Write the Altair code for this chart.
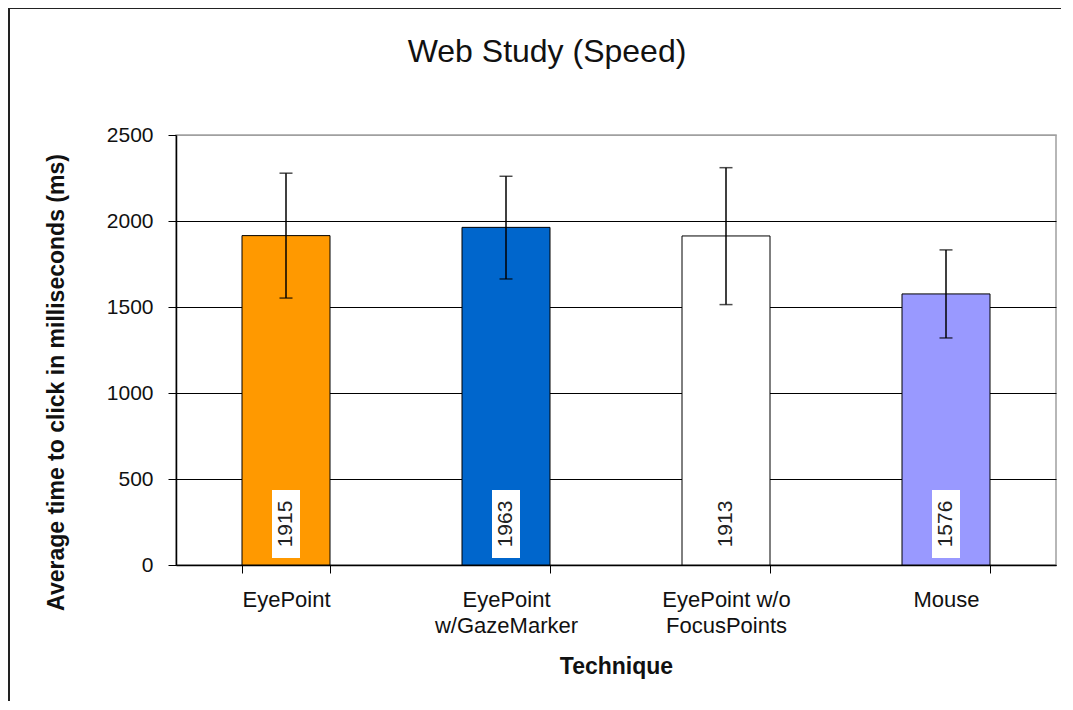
import altair as alt
import pandas as pd

chart_title = "Web Study (Speed)"
techniques = ["EyePoint", "EyePoint|w/GazeMarker", "EyePoint w/o|FocusPoints", "Mouse"]
mean_ms = [1915, 1963, 1913, 1576]
err_low = [1552, 1663, 1514, 1320]
err_high = [2278, 2260, 2310, 1832]
bar_colors = ["#FF9900", "#0066CC", "#FFFFFF", "#9999FF"]
y_ticks = [0, 500, 1000, 1500, 2000, 2500]

df = pd.DataFrame({
    "technique": techniques,
    "mean": mean_ms,
    "low": err_low,
    "high": err_high,
    "color": bar_colors,
})

FONT = "Liberation Sans"
PAD_RIGHT = 9

x_enc = alt.X(
    "technique:N",
    sort=techniques,
    title="Technique",
    scale=alt.Scale(paddingInner=0.6, paddingOuter=0.3),
    axis=alt.Axis(
        labelExpr="split(datum.label, '|')",
        labelAngle=0,
        labelFont=FONT,
        labelFontSize=22,
        labelColor="#111",
        labelLineHeight=26,
        labelPadding=16,
        tickBand="extent",
        tickSize=8,
        tickColor="black",
        domainColor="black",
        domainWidth=1.5,
        titleFont=FONT,
        titleFontSize=23,
        titleFontWeight="bold",
        titleColor="#111",
        titlePadding=19,
        grid=False,
    ),
)

y_scale = alt.Scale(domain=[0, 2500], nice=False)

bars = alt.Chart(df).mark_bar(stroke="black", strokeWidth=1).encode(
    x=x_enc,
    y=alt.Y(
        "mean:Q",
        scale=y_scale,
        title="Average time to click in milliseconds (ms)",
        axis=alt.Axis(
            values=y_ticks,
            format="d",
            grid=True,
            gridColor=alt.condition("datum.value == 2500", alt.value("#a0a0a0"), alt.value("black")),
            gridWidth=1.2,
            tickSize=8,
            tickColor="black",
            domainColor="black",
            domainWidth=1.5,
            labelFont=FONT,
            labelFontSize=21,
            labelColor="#111",
            labelPadding=15,
            titleFont=FONT,
            titleFontSize=23,
            titleFontWeight="bold",
            titleColor="#111",
            titlePadding=38,
            titleY=247,
        ),
    ),
    fill=alt.Fill("color:N", scale=None),
)

err_rule = alt.Chart(df).mark_rule(color="black", strokeWidth=1.5).encode(
    x=alt.X("technique:N", sort=techniques),
    y=alt.Y("low:Q", scale=y_scale),
    y2="high:Q",
)

cap_low = alt.Chart(df).mark_tick(color="black", size=13, thickness=1.5).encode(
    x=alt.X("technique:N", sort=techniques),
    y=alt.Y("low:Q", scale=y_scale),
)
cap_high = alt.Chart(df).mark_tick(color="black", size=13, thickness=1.5).encode(
    x=alt.X("technique:N", sort=techniques),
    y=alt.Y("high:Q", scale=y_scale),
)

label_box = alt.Chart(df).mark_bar(fill="white", size=28).encode(
    x=alt.X("technique:N", sort=techniques),
    y=alt.value(355),
    y2=alt.value(423),
)

labels = alt.Chart(df).mark_text(
    angle=270, font=FONT, fontSize=21, color="#222", baseline="middle", align="center"
).encode(
    x=alt.X("technique:N", sort=techniques),
    y=alt.value(389),
    text=alt.Text("mean:Q", format="d"),
)

title_text = alt.Chart(alt.Data(values=[{"t": chart_title}])).mark_text(
    font=FONT, fontSize=32, color="#111", baseline="middle", align="center"
).encode(
    x=alt.value(371),
    y=alt.value(-83),
    text="t:N",
)

frame_left = alt.Chart(alt.Data(values=[{}])).mark_rect(fill="#222").encode(
    x=alt.value(-168),
    x2=alt.value(-166),
    y=alt.value(-128),
    y2=alt.value(566),
)
frame_top = alt.Chart(alt.Data(values=[{}])).mark_rect(fill="#222").encode(
    x=alt.value(-168),
    x2=alt.value(880 + PAD_RIGHT - 4),
    y=alt.value(-128),
    y2=alt.value(-126),
)

chart = alt.layer(
    frame_left, frame_top, title_text, bars, err_rule, cap_low, cap_high, label_box, labels
).properties(
    width=880,
    height=430,
    autosize=alt.AutoSizeParams(type="none"),
    padding={"left": 168, "top": 127, "right": PAD_RIGHT, "bottom": 139},
).configure_view(stroke="#a0a0a0", strokeWidth=1.5)

chart.save("out.html", embed_options={"renderer": "svg", "actions": False})
